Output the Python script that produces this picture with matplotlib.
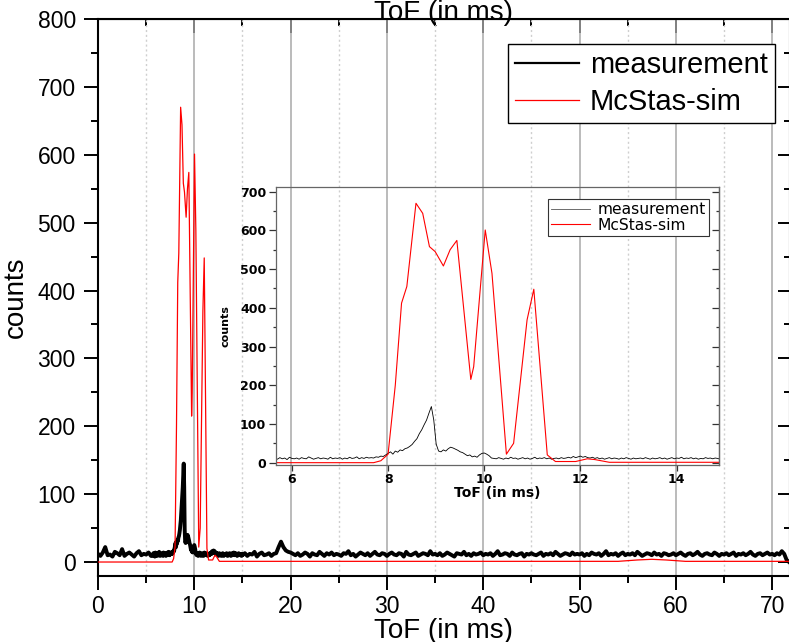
from __future__ import annotations

import matplotlib
matplotlib.use("Agg")
import matplotlib.pyplot as plt
from matplotlib.ticker import MultipleLocator
import numpy as np


# simulated spectrum (McStas), read off the inset / main plot
SIM_TOF = [0, 7.7, 7.85, 8.0, 8.15, 8.28, 8.39, 8.58, 8.72, 8.86, 8.98, 9.15, 9.29, 9.43,
           9.72, 9.78, 10.02, 10.16, 10.46, 10.61, 10.89, 11.03, 11.31, 11.48, 11.9, 12.14,
           12.3, 12.6, 54, 56, 57.5, 59, 61, 71.8]
SIM_COUNTS = [0, 0, 5, 22, 200, 412, 455, 670, 644, 558, 545, 508, 550, 574,
              215, 248, 601, 489, 22, 50, 369, 448, 20, 3, 3, 10,
              8, 1, 1, 3, 4, 3, 1, 1]

# measurement, 0.25 ms bins before the peak region
MEAS_EARLY_START = 0.0
MEAS_EARLY = [12, 9, 14, 22, 10, 11, 8, 15, 13, 10, 19, 9, 12, 14, 11, 8, 13, 16, 10, 12,
              11, 14, 9]

# measurement, 0.05 ms bins around the peak (inset range)
MEAS_FINE_START = 5.65
MEAS_FINE = [
    11, 9, 13, 10, 12, 8, 14, 11, 10, 12,
    9, 13, 11, 10, 15, 12, 9, 11, 13, 10,
    12, 11, 9, 14, 10, 12, 11, 13, 9, 12,
    10, 14, 11, 12, 15, 10, 13, 11, 14, 12,
    13, 12, 15, 14, 17, 16, 20, 24,
    28, 22, 30, 27, 33, 31, 36, 38, 42, 47,
    55, 62, 75, 85, 98, 110, 128, 145, 110, 48,
    30, 28, 33, 30, 36, 40, 38, 35, 32, 28,
    26, 22, 18, 20, 15, 17, 14, 20, 24, 25,
    22, 18, 12, 11,
    10, 13, 11, 9, 12, 10, 14, 11, 12, 9,
    11, 13, 10, 12, 9, 11, 14, 10, 12, 11,
    13, 10, 12, 9, 11, 12, 10, 13, 11, 12,
    14, 12, 16, 13, 15, 17, 14, 16, 13, 12,
    14, 11, 13, 10, 12, 9, 11, 13, 10, 12,
    11, 9, 12, 10, 13, 11, 9, 12, 10, 11,
    12, 10, 13, 11, 9, 12, 10, 11, 13, 10,
    12, 9, 11, 13, 10, 12, 11, 14, 10, 12,
    11, 13, 10, 12, 9, 11, 10, 13, 11, 12,
    10, 12, 11, 9, 12,
]

# measurement, 0.25 ms bins after the peak region
MEAS_LATE_START = 15.0
MEAS_LATE = [
    10, 13, 9, 12, 11, 15, 8, 12, 14, 10, 11, 13, 9, 12, 13, 22, 30, 22, 17, 15,
    14, 12, 10, 13, 9, 11, 14, 12, 8, 13, 11, 10, 15, 12, 9, 13, 11, 14, 10, 12,
    11, 9, 13, 12, 16, 10, 12, 8, 11, 14, 12, 10, 13, 9, 12, 15, 11, 10, 13, 12,
    9, 12, 14, 11, 10, 13, 12, 8, 15, 11, 10, 12, 14, 9, 11, 13, 12, 10, 16, 11,
    12, 10, 13, 9, 11, 14, 12, 10, 8, 13, 12, 11, 15, 10, 12, 9, 13, 11, 12, 14,
    10, 12, 11, 13, 9, 12, 16, 10, 11, 13, 12, 9, 14, 11, 10, 12, 13, 8, 12, 11,
    13, 11, 10, 12, 14, 9, 12, 11, 13, 10, 15, 12, 9, 11, 13, 12, 10, 14, 11, 12,
    11, 13, 9, 12, 10, 14, 12, 11, 13, 9, 12, 16, 10, 12, 11, 13, 9, 12, 14, 10,
    12, 11, 13, 10, 15, 12, 9, 11, 13, 12, 10, 14, 11, 12, 9, 13, 12, 10, 11, 13,
    10, 12, 14, 11, 9, 12, 13, 10, 12, 15, 11, 9, 12, 13, 11, 10, 14, 12, 9, 12,
    11, 13, 10, 12, 14, 9, 12, 11, 13, 10, 12, 15, 11, 9, 12, 13, 10, 12, 14, 11,
    12, 10, 13, 11, 16, 12, 3, 0,
]

LABEL_MEAS = "measurement"
LABEL_SIM = "McStas-sim"
X_LABEL = "ToF (in ms)"
Y_LABEL = "counts"

W, H = 789, 642


def binned(start: float, step: float, values: list[int]) -> tuple[np.ndarray, np.ndarray]:
    return start + step * np.arange(len(values)), np.asarray(values, dtype=float)


def style_main(ax) -> None:
    ax.set_xlim(0, 71.85)
    ax.set_ylim(-20.6, 800)
    ax.xaxis.set_major_locator(MultipleLocator(10))
    ax.xaxis.set_minor_locator(MultipleLocator(5))
    ax.yaxis.set_major_locator(MultipleLocator(100))
    ax.yaxis.set_minor_locator(MultipleLocator(50))
    ax.tick_params(which="both", direction="out", width=1.4, labelsize=16.5, top=False, right=False)
    ax.tick_params(which="major", length=10, pad=6)
    ax.tick_params(axis="x", which="major", pad=4)
    ax.tick_params(which="minor", length=5)
    ax.grid(True, axis="x", which="major", color="#a8a8a8", linewidth=1.1)
    ax.grid(True, axis="x", which="minor", color="#cfcfcf", linewidth=1.0, linestyle=(0, (1.5, 2)))
    for spine in ax.spines.values():
        spine.set_linewidth(1.5)

    top = ax.secondary_xaxis("top")
    top.xaxis.set_major_locator(MultipleLocator(10))
    top.xaxis.set_minor_locator(MultipleLocator(5))
    top.tick_params(which="both", direction="in", width=1.4, labeltop=False)
    top.tick_params(which="major", length=10)
    top.tick_params(which="minor", length=5)
    top.set_xlabel(X_LABEL, fontsize=20, labelpad=-1)

    right = ax.secondary_yaxis("right")
    right.yaxis.set_major_locator(MultipleLocator(100))
    right.yaxis.set_minor_locator(MultipleLocator(50))
    right.tick_params(which="both", direction="in", width=1.4, labelright=False)
    right.tick_params(which="major", length=9)
    right.tick_params(which="minor", length=4)

    ax.set_xlabel(X_LABEL, fontsize=20, labelpad=0)
    ax.set_ylabel(Y_LABEL, fontsize=20, labelpad=6)


def style_inset(ax) -> None:
    ax.set_facecolor("none")
    ax.set_xlim(5.67, 14.88)
    ax.set_ylim(-6, 712)
    ax.set_xticks([6, 8, 10, 12, 14])
    ax.set_yticks(range(0, 701, 100))
    ax.yaxis.set_minor_locator(MultipleLocator(50))
    ax.tick_params(which="both", direction="out", width=0.9, color="#333333", top=False, right=False)
    ax.tick_params(axis="x", which="major", length=4, pad=2, labelsize=9)
    ax.tick_params(axis="y", which="major", length=5, pad=2, labelsize=9)
    ax.tick_params(axis="y", which="minor", length=2.5)
    plt.setp(ax.get_xticklabels() + ax.get_yticklabels(), fontweight="bold", family="DejaVu Sans")
    for spine in ax.spines.values():
        spine.set_linewidth(0.9)
        spine.set_color("#666666")

    right = ax.secondary_yaxis("right")
    right.set_yticks(range(0, 701, 100))
    right.yaxis.set_minor_locator(MultipleLocator(50))
    right.tick_params(which="both", direction="in", width=0.9, color="#333333", labelright=False)
    right.tick_params(which="major", length=5)
    right.tick_params(which="minor", length=2.5)
    right.spines["right"].set_color("#666666")
    right.spines["right"].set_linewidth(0.9)

    ax.set_xlabel(X_LABEL, fontsize=10, fontweight="bold", family="DejaVu Sans", labelpad=0)
    ax.set_ylabel(Y_LABEL, fontsize=8, fontweight="bold", family="DejaVu Sans", labelpad=7)


def main() -> None:
    plt.rcParams["font.family"] = ["Liberation Sans", "DejaVu Sans"]

    t_early, c_early = binned(MEAS_EARLY_START, 0.25, MEAS_EARLY)
    t_fine, c_fine = binned(MEAS_FINE_START, 0.05, MEAS_FINE)
    t_late, c_late = binned(MEAS_LATE_START, 0.25, MEAS_LATE)
    t_meas = np.concatenate([t_early, t_fine, t_late])
    c_meas = np.concatenate([c_early, c_fine, c_late])

    fig = plt.figure(figsize=(W / 100, H / 100), dpi=100)
    ax = fig.add_axes([98 / W, 1 - 576 / H, (790 - 98) / W, (576 - 19) / H])

    ax.plot(t_meas, c_meas, color="black", linewidth=2.8, label=LABEL_MEAS, zorder=3)
    ax.plot(SIM_TOF, SIM_COUNTS, color="red", linewidth=0.9, label=LABEL_SIM, zorder=4)
    style_main(ax)
    leg = ax.legend(loc="upper right", bbox_to_anchor=(0.978, 0.955), fontsize=21,
                    frameon=True, fancybox=False, framealpha=1, edgecolor="black",
                    handlelength=2.2, handletextpad=0.35, labelspacing=0.3,
                    borderpad=0.25, borderaxespad=0)
    leg.get_frame().set_linewidth(1.0)
    leg.legend_handles[0].set_linewidth(1.6)

    inset = fig.add_axes([276 / W, 1 - 465 / H, (719 - 276) / W, (465 - 187) / H])
    inset.plot(t_fine, c_fine, color="black", linewidth=0.6, label=LABEL_MEAS)
    inset.plot(SIM_TOF, SIM_COUNTS, color="red", linewidth=0.8, label=LABEL_SIM)
    style_inset(inset)
    ileg = inset.legend(loc="upper right", bbox_to_anchor=(0.977, 0.957),
                        prop={"family": "DejaVu Sans", "size": 11.2},
                        frameon=True, fancybox=False, framealpha=1, edgecolor="#333333",
                        handlelength=2.5, handletextpad=0.5, labelspacing=0.05,
                        borderpad=0.2, borderaxespad=0)
    ileg.get_frame().set_linewidth(0.8)
    ileg.legend_handles[0].set_color("#555555")

    fig.savefig("out.png", dpi=100)
    plt.close(fig)


if __name__ == "__main__":
    main()
